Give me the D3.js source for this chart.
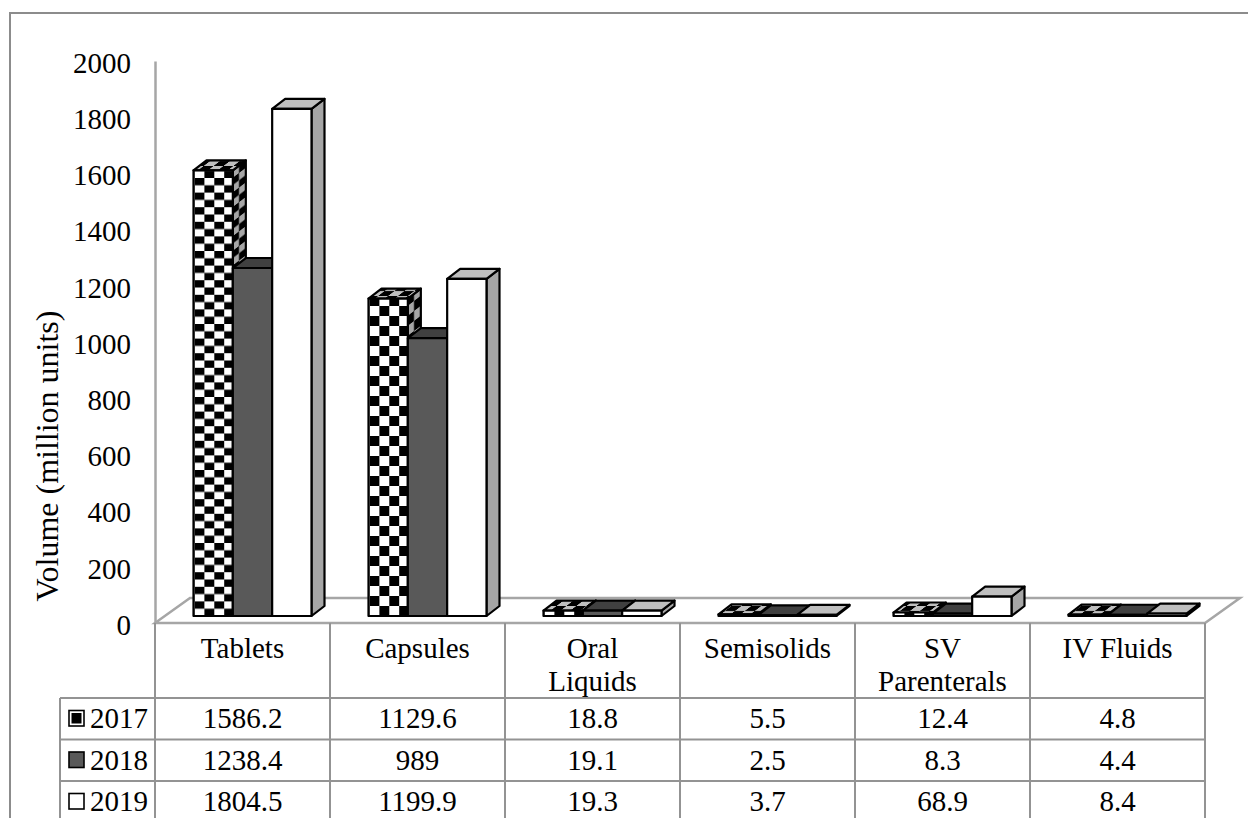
<!DOCTYPE html>
<html>
<head>
<meta charset="utf-8">
<script src="https://cdn.jsdelivr.net/npm/d3@7"></script>
<style>
  html, body { margin: 0; padding: 0; background: #fff; overflow: hidden; }
  text { font-family: "Liberation Serif", serif; font-size: 29px; fill: #000; }
</style>
</head>
<body>
<svg id="chart" width="1248" height="818"></svg>
<script>
  const categories = ["Tablets", "Capsules", "Oral Liquids", "Semisolids", "SV Parenterals", "IV Fluids"];
  const years = ["2017", "2018", "2019"];
  const values2017 = [1586.2, 1129.6, 18.8, 5.5, 12.4, 4.8];
  const values2018 = [1238.4, 989, 19.1, 2.5, 8.3, 4.4];
  const values2019 = [1804.5, 1199.9, 19.3, 3.7, 68.9, 8.4];
  const yTicks = [0, 200, 400, 600, 800, 1000, 1200, 1400, 1600, 1800, 2000];

  const seriesValues = [values2017, values2018, values2019];

  const GRAY = "#a6a6a6";
  const LINE = "#939393";
  const DEPTH_X = 13;
  const DEPTH_Y = 10;
  const FLOOR_X = 35;
  const FLOOR_Y = 25;
  const ROW_TOP = 698;
  const ROW_H = 41.5;

  const svg = d3.select("#chart");
  const defs = svg.append("defs");

  const x = d3.scaleBand().domain(categories).range([155, 1205]);
  const xBar = d3.scaleBand().domain(years).range([0, 118]);
  const y = d3.scaleLinear().domain([0, 2000]).range([623, 61]);

  // checker patterns; cell height differs per category like the original fill
  function checker(id, w, h, light, transform) {
    const p = defs.append("pattern")
      .attr("id", id)
      .attr("patternUnits", "userSpaceOnUse")
      .attr("width", w * 2)
      .attr("height", h * 2);
    if (transform) p.attr("patternTransform", transform);
    p.append("rect").attr("width", w * 2).attr("height", h * 2).attr("fill", light);
    p.append("rect").attr("width", w).attr("height", h).attr("fill", "#000");
    p.append("rect").attr("x", w).attr("y", h).attr("width", w).attr("height", h).attr("fill", "#000");
  }

  categories.forEach((c, i) => {
    const h = i === 0 ? 7.3 : 10;
    const sx = x(c) + 38.5;
    checker(`front${i}`, 9.9, h, "#fff", `translate(${sx + 1},616)`);
    checker(`side${i}`, 6.5, h, GRAY, `translate(${sx + 39},616) skewY(-37.6)`);
    checker(`top${i}`, 9.9, 5, "#bfbfbf", `translate(${sx},616) skewX(-52.4)`);
  });

  // frame, open on the right where the page cuts it off
  svg.append("path")
    .attr("d", "M10,818V13H1248")
    .attr("fill", "none")
    .attr("stroke", "#8c8c8c")
    .attr("stroke-width", 2);

  // value axis
  const yAxis = svg.append("g")
    .attr("transform", "translate(155,0)")
    .call(d3.axisLeft(y).tickValues(yTicks).tickFormat(d3.format("d")).tickSize(0).tickPadding(24));
  yAxis.select(".domain").attr("stroke", GRAY).attr("stroke-width", 2.5);
  yAxis.selectAll("text")
    .attr("dy", "0.39em")
    .style("font-family", '"Liberation Serif", serif')
    .style("font-size", "29px");

  svg.append("text")
    .attr("transform", "translate(58,456) rotate(-90)")
    .attr("text-anchor", "middle")
    .style("font-size", "32px")
    .text("Volume (million units)");

  // floor
  const floorLeft = x.range()[0];
  const floorRight = x.range()[1];
  svg.append("path")
    .attr("d", `M${floorLeft},${y(0)}L${floorLeft + FLOOR_X},${y(0) - FLOOR_Y}H${floorRight + FLOOR_X}L${floorRight},${y(0)}Z`)
    .attr("fill", "none")
    .attr("stroke", GRAY)
    .attr("stroke-width", 2.5);

  // table grid
  const rowLines = years.map((d, i) => ROW_TOP + i * ROW_H);
  const table = svg.append("g").attr("stroke", LINE).attr("stroke-width", 2).attr("fill", "none");
  table.selectAll("line.row")
    .data(rowLines)
    .join("line")
    .attr("class", "row")
    .attr("x1", 60)
    .attr("x2", floorRight)
    .attr("y1", (d) => d)
    .attr("y2", (d) => d);
  table.selectAll("line.col")
    .data(categories.map((c) => x(c)).concat(floorRight))
    .join("line")
    .attr("class", "col")
    .attr("x1", (d) => d)
    .attr("x2", (d) => d)
    .attr("y1", y(0))
    .attr("y2", 818);
  table.append("line").attr("x1", 60).attr("x2", 60).attr("y1", ROW_TOP).attr("y2", 818);

  // bars, drawn left to right so the later bar covers the earlier side face
  const faces = {
    "2018": { front: "#595959", side: "#404040", top: "#404040" },
    "2019": { front: "#fff", side: GRAY, top: "#bfbfbf" },
  };
  const barGroup = svg.append("g")
    .attr("stroke", "#000")
    .attr("stroke-width", 2.2)
    .attr("stroke-linejoin", "round");

  categories.forEach((c, ci) => {
    years.forEach((yr, si) => {
      const v = seriesValues[si][ci];
      const x0 = x(c) + 38.5 + xBar(yr);
      const x1 = x0 + xBar.bandwidth();
      const y0 = y(0) - 7;
      const yT = y(v) - 7;
      const f = faces[yr] || { front: `url(#front${ci})`, side: `url(#side${ci})`, top: `url(#top${ci})` };
      barGroup.append("path").attr("fill", f.side)
        .attr("d", `M${x1},${y0}L${x1 + DEPTH_X},${y0 - DEPTH_Y}V${yT - DEPTH_Y}L${x1},${yT}Z`);
      barGroup.append("path").attr("fill", f.top)
        .attr("d", `M${x0},${yT}L${x0 + DEPTH_X},${yT - DEPTH_Y}H${x1 + DEPTH_X}L${x1},${yT}Z`);
      barGroup.append("rect").attr("fill", f.front)
        .attr("x", x0).attr("y", yT).attr("width", x1 - x0).attr("height", y0 - yT);
    });
  });

  // category labels, wrapped as in the table head
  const catLabels = svg.append("g").attr("text-anchor", "middle");
  categories.forEach((c) => {
    const words = c === "Oral Liquids" || c === "SV Parenterals" ? c.split(" ") : [c];
    words.forEach((w, i) => {
      catLabels.append("text")
        .attr("x", x(c) + x.bandwidth() / 2)
        .attr("y", 658 + i * 33)
        .text(w);
    });
  });

  // value rows
  years.forEach((yr, si) => {
    const rowY = ROW_TOP + si * ROW_H + 30;
    svg.append("text").attr("x", 90).attr("y", rowY).text(yr);
    const key = svg.append("g");
    key.append("rect")
      .attr("x", 69).attr("y", rowY - 17.5).attr("width", 15).attr("height", 15.5)
      .attr("fill", si === 1 ? "#595959" : "#fff").attr("stroke", "#000").attr("stroke-width", 1.6);
    if (si === 0) {
      key.append("rect")
        .attr("x", 71.5).attr("y", rowY - 15).attr("width", 10).attr("height", 10.5)
        .attr("fill", "#000");
    }
    svg.append("g").attr("text-anchor", "middle")
      .selectAll("text")
      .data(seriesValues[si])
      .join("text")
      .attr("x", (d, i) => x(categories[i]) + x.bandwidth() / 2)
      .attr("y", rowY)
      .text((d) => d);
  });
</script>
</body>
</html>
